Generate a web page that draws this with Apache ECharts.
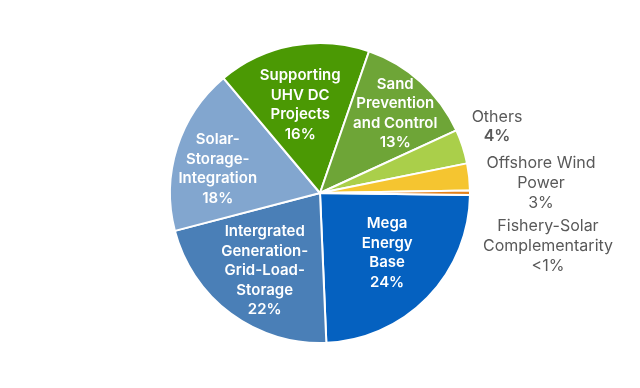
<!DOCTYPE html>
<html>
<head>
<meta charset="utf-8">
<script src="https://cdn.jsdelivr.net/npm/echarts@6/dist/echarts.min.js"></script>
<style>html,body{margin:0;padding:0;background:#fff}#c{width:640px;height:388px}</style>
</head>
<body>
<div id="c"></div>
<script>
const categories = ["Mega\nEnergy\nBase", "Intergrated\nGeneration-\nGrid-Load-\nStorage", "Solar-\nStorage-\nIntegration", "Supporting\nUHV DC\nProjects", "Sand\nPrevention\nand Control", "Others", "Offshore Wind\nPower", "Fishery-Solar\nComplementarity"];
const values = [24.2, 21.7, 18.0, 16.5, 12.9, 3.7, 2.9, 0.5];
const percentLabels = ["24%", "22%", "18%", "16%", "13%", "4%", "3%", "<1%"];
const colors = ["#0561c0", "#4a7fb7", "#82a6cf", "#4b9904", "#6ea537", "#aacf4a", "#f5c530", "#e5821c"];

const CX = 320, CY = 193, R = 150;
const FONT = 'Inter';
const innerRadiusFactor = [0.6, 0.635, 0.7, 0.6, 0.73];
const innerAngleShift = [-2.4, -1, -4.5, -2.2, 1.2];
const outerAnchor = {5: [497, 127], 6: [541, 183], 7: [548, 246]};

const data = categories.map((name, i) => {
  const outer = outerAnchor[i] !== undefined;
  return {
    name: name,
    value: values[i],
    itemStyle: {color: colors[i]},
    label: outer ? {
      color: '#595959',
      fontWeight: 'normal',
      fontSize: 16,
      lineHeight: 20,
      formatter: i === 5 ? '{n|' + name + '}\n{b|' + percentLabels[i] + '}' : name + '\n' + percentLabels[i],
      rich: {n: {fontWeight: 'normal', color: '#595959', fontSize: 16, lineHeight: 19, fontFamily: FONT},
             b: {fontWeight: 600, color: '#595959', fontSize: 16, lineHeight: 19, fontFamily: FONT}}
    } : {formatter: name + '\n' + percentLabels[i]}
  };
});

const chart = echarts.init(document.getElementById('c'), null, {renderer: 'canvas'});
chart.setOption({
  animation: false,
  backgroundColor: '#ffffff',
  series: [{
    type: 'pie',
    center: [CX, CY],
    radius: [0, R],
    startAngle: -0.8,
    clockwise: true,
    avoidLabelOverlap: false,
    itemStyle: {borderColor: '#ffffff', borderWidth: 2},
    label: {
      show: true,
      position: 'inside',
      color: '#ffffff',
      fontSize: 15,
      lineHeight: 19.5,
      fontWeight: 600,
      fontFamily: FONT,
      align: 'center'
    },
    labelLine: {show: false},
    labelLayout: function (p) {
      const r = p.labelRect;
      const i = p.dataIndex;
      if (outerAnchor[i]) {
        const a = outerAnchor[i];
        return {x: a[0], y: a[1], align: 'center', verticalAlign: 'middle'};
      }
      const lx = r.x + r.width / 2 - CX, ly = r.y + r.height / 2 - CY;
      const ang = Math.atan2(ly, lx) + innerAngleShift[i] * Math.PI / 180;
      const rad = innerRadiusFactor[i] * R;
      return {x: CX + Math.cos(ang) * rad, y: CY + Math.sin(ang) * rad, align: 'center', verticalAlign: 'middle'};
    },
    data: data
  }]
});
</script>
</body>
</html>
